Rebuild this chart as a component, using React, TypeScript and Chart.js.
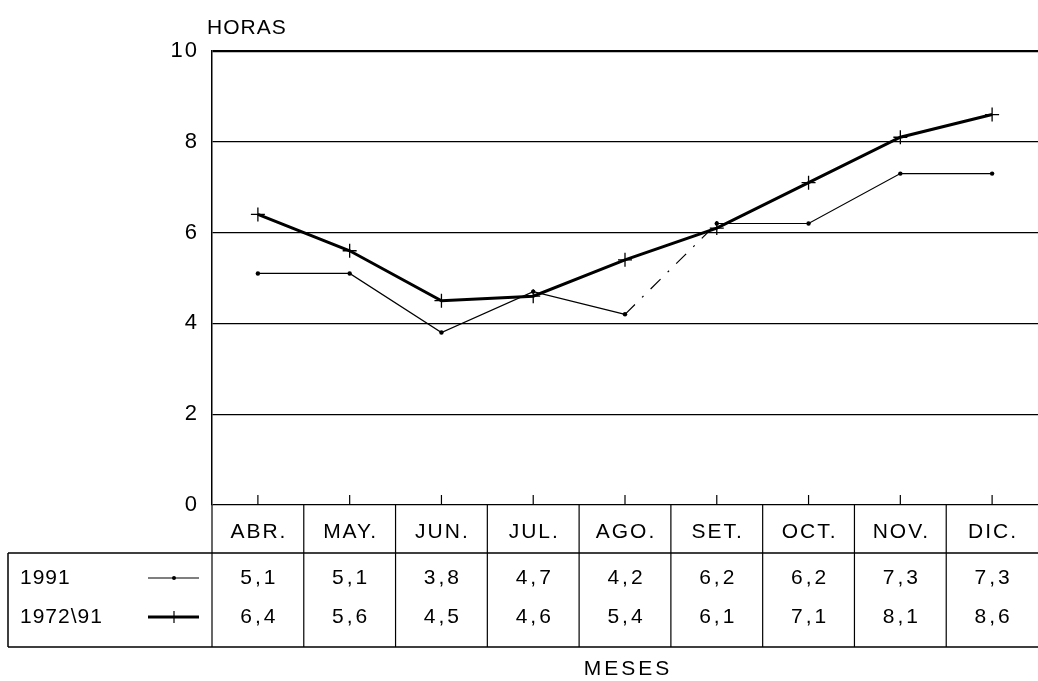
import React, { useEffect, useRef } from "react";
import { Chart, registerables } from "chart.js";

Chart.register(...registerables);

const months = ["ABR.", "MAY.", "JUN.", "JUL.", "AGO.", "SET.", "OCT.", "NOV.", "DIC."];
const series1991 = [5.1, 5.1, 3.8, 4.7, 4.2, 6.2, 6.2, 7.3, 7.3];
const series7291 = [6.4, 5.6, 4.5, 4.6, 5.4, 6.1, 7.1, 8.1, 8.6];
const seriesLabels = ["1991", "1972\\91"];
const yTicks = [0, 2, 4, 6, 8, 10];
const yTitle = "HORAS";
const xTitle = "MESES";

const FONT = "'Liberation Sans', Arial, sans-serif";

const fmt = (v: number) => v.toFixed(1).replace(".", ",");

const spacingPlugin = {
  id: "spacingPlugin",
  beforeDraw(chart: any) {
    (chart.ctx as any).letterSpacing = "2px";
  },
};

const tablePlugin = {
  id: "tablePlugin",
  afterDraw(chart: any) {
    const ctx = chart.ctx as any;
    const x = chart.scales.x;
    const area = chart.chartArea;
    const n = months.length;
    const step = n > 1 ? x.getPixelForValue(1) - x.getPixelForValue(0) : 90;
    const base = area.bottom;
    const headerBottom = base + 48;
    const tableBottom = headerBottom + 94;
    const tableLeft = 8;
    const tableRight = chart.width;
    const row1 = headerBottom + 25;
    const row2 = headerBottom + 64;

    ctx.save();
    ctx.strokeStyle = "#000";
    ctx.fillStyle = "#000";

    // HORAS
    ctx.letterSpacing = "1px";
    ctx.font = `21px ${FONT}`;
    ctx.textAlign = "left";
    ctx.textBaseline = "middle";
    ctx.fillText(yTitle, area.left - 5, 28);

    // x ticks (upward)
    ctx.lineWidth = 1.2;
    for (let i = 0; i < n; i++) {
      const px = x.getPixelForValue(i);
      ctx.beginPath();
      ctx.moveTo(px, base);
      ctx.lineTo(px, base - 10);
      ctx.stroke();
    }

    // left axis continuation
    ctx.beginPath();
    ctx.moveTo(area.left, base);
    ctx.lineTo(area.left, tableBottom);
    ctx.stroke();

    // header dividers and data dividers
    for (let i = 1; i < n; i++) {
      const bx = x.getPixelForValue(i) - step / 2;
      ctx.beginPath();
      ctx.moveTo(bx, base);
      ctx.lineTo(bx, tableBottom);
      ctx.stroke();
    }

    // table borders
    ctx.lineWidth = 1.5;
    ctx.beginPath();
    ctx.moveTo(tableLeft, headerBottom);
    ctx.lineTo(tableRight, headerBottom);
    ctx.moveTo(tableLeft, tableBottom);
    ctx.lineTo(tableRight, tableBottom);
    ctx.moveTo(tableLeft, headerBottom);
    ctx.lineTo(tableLeft, tableBottom);
    ctx.stroke();

    // month labels
    ctx.letterSpacing = "2px";
    ctx.font = `21px ${FONT}`;
    ctx.textAlign = "center";
    for (let i = 0; i < n; i++) {
      ctx.fillText(months[i], x.getPixelForValue(i) + 1, base + 27);
    }

    // values
    ctx.letterSpacing = "3px";
    for (let i = 0; i < n; i++) {
      const px = x.getPixelForValue(i) + 1.5;
      ctx.fillText(fmt(series1991[i]), px, row1);
      ctx.fillText(fmt(series7291[i]), px, row2);
    }

    // row labels
    ctx.letterSpacing = "1px";
    ctx.textAlign = "left";
    ctx.fillText(seriesLabels[0], 20, row1);
    ctx.fillText(seriesLabels[1], 20, row2);

    // legend samples
    ctx.lineWidth = 1.2;
    ctx.beginPath();
    ctx.moveTo(148, row1);
    ctx.lineTo(199, row1);
    ctx.stroke();
    ctx.beginPath();
    ctx.arc(174, row1, 2, 0, Math.PI * 2);
    ctx.fill();

    ctx.lineWidth = 3;
    ctx.beginPath();
    ctx.moveTo(148, row2);
    ctx.lineTo(199, row2);
    ctx.stroke();
    ctx.lineWidth = 1.2;
    ctx.beginPath();
    ctx.moveTo(174, row2 - 6);
    ctx.lineTo(174, row2 + 6);
    ctx.stroke();

    // MESES
    ctx.letterSpacing = "3px";
    ctx.textAlign = "center";
    ctx.font = `21px ${FONT}`;
    ctx.fillText(xTitle, 628, tableBottom + 22);

    ctx.restore();
    ctx.letterSpacing = "0px";
  },
};

export default function App() {
  const ref = useRef<HTMLCanvasElement>(null);

  useEffect(() => {
    if (!ref.current) return;
    const chart = new Chart(ref.current, {
      type: "line",
      data: {
        labels: months,
        datasets: [
          {
            label: seriesLabels[0],
            data: series1991,
            borderColor: "#000",
            backgroundColor: "#000",
            borderWidth: 1.2,
            pointRadius: 2.2,
            pointStyle: "circle",
            pointBorderWidth: 0,
            tension: 0,
            segment: {
              borderDash: (c: any) => (c.p0DataIndex === 4 ? [14, 10, 2, 10] : undefined),
            },
          },
          {
            label: seriesLabels[1],
            data: series7291,
            borderColor: "#000",
            backgroundColor: "#000",
            borderWidth: 3,
            pointRadius: 7,
            pointStyle: "cross",
            pointBorderWidth: 1.3,
            tension: 0,
          },
        ],
      },
      options: {
        responsive: false,
        animation: false,
        layout: { autoPadding: false, padding: { top: 51, bottom: 176, left: 0, right: 0 } },
        plugins: {
          legend: { display: false },
          tooltip: { enabled: false },
        },
        scales: {
          x: {
            offset: true,
            ticks: { display: false },
            grid: { display: false, drawTicks: false },
            border: { display: false },
          },
          y: {
            min: 0,
            max: 10,
            afterBuildTicks: (s: any) => {
              s.ticks = yTicks.map((v) => ({ value: v }));
            },
            afterFit: (s: any) => {
              s.width = 212;
            },
            ticks: {
              color: "#000",
              padding: 13,
              font: { family: FONT, size: 22 },
            },
            grid: {
              color: "#000",
              lineWidth: (c: any) => (c.tick && c.tick.value === 10 ? 2.2 : 1.2),
              drawTicks: false,
            },
            border: { display: true, color: "#000", width: 1.5 },
          },
        },
      },
      plugins: [spacingPlugin, tablePlugin],
    });
    return () => chart.destroy();
  }, []);

  return (
    <div style={{ position: "absolute", left: 0, top: 0, width: 1038, height: 681, background: "#fff" }}>
      <canvas ref={ref} width={1038} height={681} style={{ width: 1038, height: 681 }} />
    </div>
  );
}
